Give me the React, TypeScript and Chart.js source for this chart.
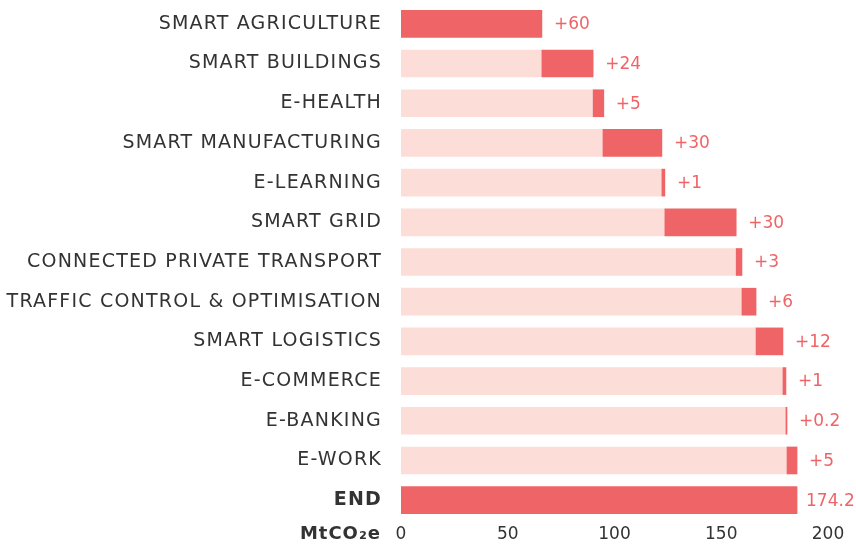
import React, { useEffect, useRef } from "react";
import { Chart, registerables } from "chart.js";

Chart.register(...registerables);

const categories = [
  "SMART AGRICULTURE",
  "SMART BUILDINGS",
  "E-HEALTH",
  "SMART MANUFACTURING",
  "E-LEARNING",
  "SMART GRID",
  "CONNECTED PRIVATE TRANSPORT",
  "TRAFFIC CONTROL & OPTIMISATION",
  "SMART LOGISTICS",
  "E-COMMERCE",
  "E-BANKING",
  "E-WORK",
  "END",
];

// bar start / end positions, in axis units
const barStarts = [0, 66, 90, 94.6, 122.2, 123.6, 157, 159.7, 166.3, 178.9, 180.3, 180.8, 0];
const barEnds = [66, 90, 95, 122.2, 123.6, 157, 159.7, 166.3, 178.9, 180.3, 180.8, 185.5, 185.5];
const valueLabels = ["+60", "+24", "+5", "+30", "+1", "+30", "+3", "+6", "+12", "+1", "+0.2", "+5", "174.2"];
const xTicks = [0, 50, 100, 150, 200];
const unitLabel = "MtCO₂e";

const FONT = "'DejaVu Sans', sans-serif";
const DARK = "#EE6467";
const LIGHT = "#FCDDD7";
const TEXT = "#333333";

export default function App() {
  const ref = useRef<HTMLCanvasElement | null>(null);
  useEffect(() => {
    if (!ref.current) return;
    const last = categories.length - 1;
    const labelsPlugin = {
      id: "valueLabels",
      beforeDraw(chart: any) {
        chart.ctx.letterSpacing = "0px";
      },
      afterDatasetsDraw(chart: any) {
        const { ctx } = chart;
        const meta = chart.getDatasetMeta(1);
        ctx.save();
        ctx.letterSpacing = "0px";
        ctx.font = `normal 17px ${FONT}`;
        ctx.fillStyle = DARK;
        ctx.textAlign = "left";
        ctx.textBaseline = "middle";
        meta.data.forEach((bar: any, i: number) => {
          const props = bar.getProps(["x", "y", "base"], true);
          const right = Math.max(props.x, props.base);
          const gap = i === last ? 9 : 12;
          ctx.fillText(valueLabels[i], right + gap, props.y + 1);
        });
        ctx.restore();
        // category labels (y axis ticks, z = 1, drawn after datasets) use wider tracking
        ctx.letterSpacing = "1.2px";
      },
      afterDraw(chart: any) {
        const { ctx, chartArea } = chart;
        ctx.letterSpacing = "0px";
        ctx.save();
        ctx.letterSpacing = "1px";
        ctx.font = `bold 18px ${FONT}`;
        ctx.fillStyle = TEXT;
        ctx.textAlign = "right";
        ctx.textBaseline = "middle";
        ctx.fillText(unitLabel, chartArea.left - 20, chartArea.bottom + 14);
        ctx.restore();
        ctx.letterSpacing = "0px";
      },
    };
    const chart = new Chart(ref.current, {
      type: "bar",
      data: {
        labels: categories,
        datasets: [
          {
            data: categories.map((_, i) => (i < last ? [0, barStarts[i]] : null)) as any,
            backgroundColor: LIGHT,
            borderWidth: 0,
            borderSkipped: false,
            barThickness: 27,
            grouped: false,
            order: 2,
          },
          {
            data: categories.map((_, i) => [barStarts[i], barEnds[i]]) as any,
            backgroundColor: DARK,
            borderWidth: 0,
            borderSkipped: false,
            barThickness: 27,
            grouped: false,
            order: 1,
          },
        ],
      },
      options: {
        indexAxis: "y",
        animation: false,
        responsive: false,
        maintainAspectRatio: false,
        layout: { padding: { top: 4, right: 28, bottom: 0, left: 0 } },
        plugins: { legend: { display: false }, tooltip: { enabled: false } },
        scales: {
          x: {
            type: "linear",
            min: 0,
            max: 200,
            afterBuildTicks: (s: any) => {
              s.ticks = xTicks.map((v) => ({ value: v }));
            },
            afterFit: (s: any) => {
              s.height = 26;
              s.paddingLeft = 0;
              s.paddingRight = 0;
            },
            grid: { display: false, drawTicks: false },
            border: { display: false },
            ticks: { color: TEXT, font: { family: FONT, size: 17 }, padding: 4 },
          },
          y: {
            afterFit: (s: any) => {
              s.width = 401;
              s.paddingTop = 0;
              s.paddingBottom = 0;
            },
            grid: { display: false, drawTicks: false },
            border: { display: false },
            ticks: {
              z: 1,
              color: TEXT,
              padding: 19,
              font: (c: any) => ({
                family: FONT,
                size: 19,
                weight: c.index === last ? "bold" : "normal",
              }),
            },
          },
        },
      },
      plugins: [labelsPlugin],
    });
    return () => chart.destroy();
  }, []);
  return (
    <div style={{ position: "fixed", left: 0, top: 0, width: 856, height: 546, background: "#fff" }}>
      <canvas ref={ref} width={856} height={546} style={{ width: 856, height: 546 }} />
    </div>
  );
}
